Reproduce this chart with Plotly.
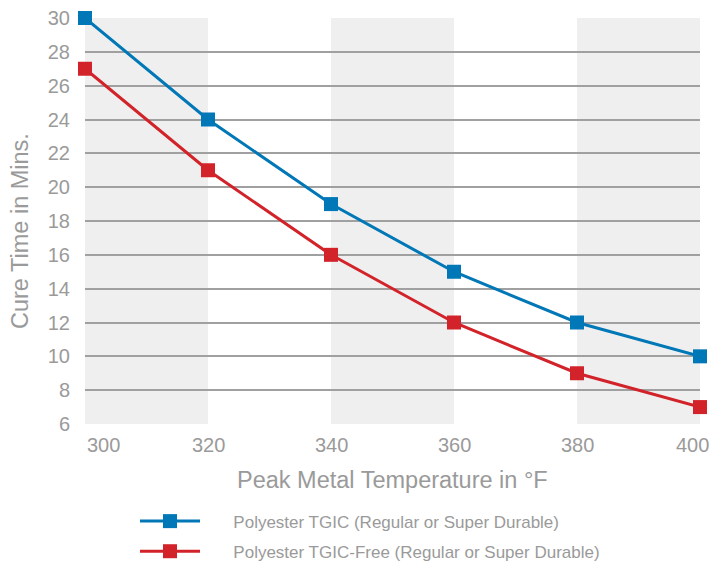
import plotly.graph_objects as go

temps = [300, 320, 340, 360, 380, 400]
tgic = [30, 24, 19, 15, 12, 10]
tgic_free = [27, 21, 16, 12, 9, 7]
series_names = ["Polyester TGIC (Regular or Super Durable)",
                "Polyester TGIC-Free (Regular or Super Durable)"]
series_colors = ["#0077B6", "#D2232A"]
band_starts = [300, 340, 380]
band_width = 20
y_ticks = list(range(6, 31, 2))
x_title = "Peak Metal Temperature in °F"
y_title = "Cure Time in Mins."

FONT = "Liberation Sans, Arial, sans-serif"
GRAY = "#9a9a9a"

fig = go.Figure()
for i, (name, vals, col) in enumerate(zip(series_names, [tgic, tgic_free], series_colors)):
    fig.add_trace(go.Scatter(
        x=temps, y=vals, name="\u00a0" * 6 + name, mode="lines+markers",
        line=dict(color=col, width=3),
        marker=dict(symbol="square", size=14, color=col),
        cliponaxis=False, legendgroup=f"g{i}",
    ))

for b in band_starts:
    fig.add_vrect(x0=b, x1=b + band_width, fillcolor="#efefef", line_width=0, layer="below")

# x tick labels as annotations (edge labels aligned inward)
for i, t in enumerate(temps):
    anchor = "left" if i == 0 else ("right" if i == len(temps) - 1 else "center")
    xs = 11 if i == len(temps) - 1 else 0
    fig.add_annotation(x=t, y=0, xref="x", yref="paper", text=str(t), showarrow=False,
                       xanchor=anchor, yanchor="top", yshift=-8, xshift=xs,
                       font=dict(family=FONT, size=20, color=GRAY))

fig.add_annotation(x=0.5, y=0, xref="paper", yref="paper", text=x_title, showarrow=False,
                   xanchor="center", yanchor="top", yshift=-41, xshift=0,
                   font=dict(family=FONT, size=23.5, color=GRAY))
fig.add_annotation(x=0, y=0.5, xref="paper", yref="paper", text=y_title, showarrow=False,
                   textangle=-90, xanchor="center", yanchor="middle", xshift=-65, yshift=-10,
                   font=dict(family=FONT, size=23.5, color=GRAY))

fig.update_layout(
    width=711, height=569,
    margin=dict(l=85, r=11, t=18, b=145, autoexpand=False),
    paper_bgcolor="white", plot_bgcolor="white",
    font=dict(family=FONT, color=GRAY),
    xaxis=dict(range=[300, 400], showgrid=False, zeroline=False, showline=False,
               showticklabels=False, ticks="", automargin=False),
    yaxis=dict(range=[6, 30], tickvals=y_ticks, showgrid=True, gridcolor="#a0a0a0",
               gridwidth=2, zeroline=False, showline=False, ticks="", automargin=False,
               tickfont=dict(family=FONT, size=20, color=GRAY), ticklabelstandoff=14),
    showlegend=True,
    legend=dict(x=135 / 711, xanchor="left", y=0.115, yanchor="top",
                xref="container", yref="container",
                font=dict(family=FONT, size=17, color=GRAY),
                itemwidth=60, tracegroupgap=5, bgcolor="rgba(0,0,0,0)"),
)

fig.write_html("out.html")
